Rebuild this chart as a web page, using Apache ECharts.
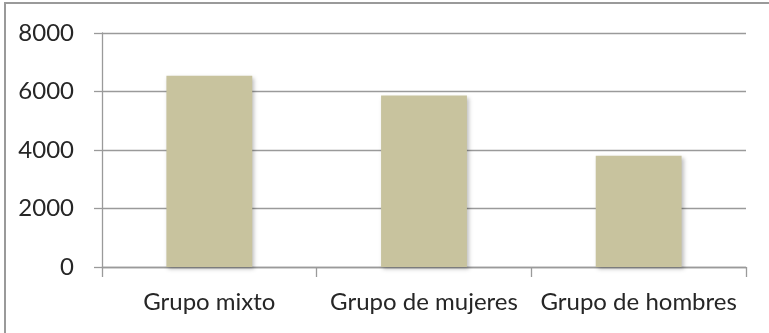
<!DOCTYPE html>
<html>
<head>
<meta charset="utf-8">
<script src="https://cdn.jsdelivr.net/npm/echarts@6/dist/echarts.min.js"></script>
<style>
  html, body { margin: 0; padding: 0; background: #fff; }
  #chart { width: 769px; height: 333px; }
</style>
</head>
<body>
<div id="chart"></div>
<script>
  // datos
  const categories = ['Grupo mixto', 'Grupo de mujeres', 'Grupo de hombres'];
  const values = [6540, 5860, 3800];
  const yTicks = [0, 2000, 4000, 6000, 8000];

  const chart = echarts.init(document.getElementById('chart'));

  const option = {
    animation: false,
    grid: { left: 102, right: 23, top: 33, bottom: 66 },
    graphic: [
      { type: 'rect', shape: { x: 4, y: 2, width: 2, height: 331 }, style: { fill: '#9a9a9a' } },
      { type: 'rect', shape: { x: 4, y: 2, width: 765, height: 2 }, style: { fill: '#9a9a9a' } }
    ],
    xAxis: {
      type: 'category',
      data: categories,
      axisLine: { lineStyle: { color: '#9a9a9a', width: 1.3 } },
      axisTick: { show: true, length: 10, lineStyle: { color: '#9a9a9a', width: 1.3 } },
      axisLabel: {
        interval: 0,
        hideOverlap: false,
        margin: 23,
        color: '#262626',
        fontFamily: 'Lato',
        fontSize: 24
      }
    },
    yAxis: {
      type: 'value',
      min: yTicks[0],
      max: yTicks[yTicks.length - 1],
      interval: 2000,
      axisLine: { show: true, lineStyle: { color: '#9a9a9a', width: 1.3 } },
      axisTick: { show: true, length: 8, lineStyle: { color: '#9a9a9a', width: 1.3 } },
      splitLine: { lineStyle: { color: '#9a9a9a', width: 1.3 } },
      axisLabel: {
        margin: 28,
        color: '#262626',
        fontFamily: 'Lato',
        fontSize: 24,
        formatter: (v) => String(v)
      }
    },
    series: [{
      type: 'bar',
      data: values,
      barWidth: '40%',
      itemStyle: {
        color: '#c8c39e',
        shadowColor: 'rgba(0,0,0,0.25)',
        shadowBlur: 4,
        shadowOffsetX: 2,
        shadowOffsetY: 2
      }
    }]
  };

  chart.setOption(option);
</script>
</body>
</html>
